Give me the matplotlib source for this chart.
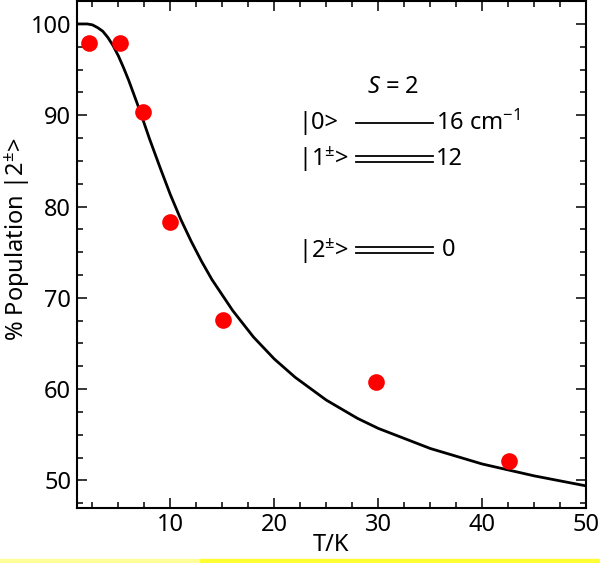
#!/usr/bin/env python3

import matplotlib
matplotlib.use("Agg")
import matplotlib.pyplot as plt
from matplotlib.lines import Line2D
from matplotlib.patches import Rectangle
from matplotlib.ticker import MultipleLocator

plt.rcParams['font.family'] = ['Noto Sans', 'DejaVu Sans']
plt.rcParams['mathtext.fontset'] = 'custom'
plt.rcParams['mathtext.rm'] = 'Noto Sans'
plt.rcParams['mathtext.it'] = 'Noto Sans:italic'

# measured populations (red dots)
T_EXP = [2.2, 5.2, 7.4, 10.0, 15.1, 29.8, 42.6]
POP_EXP = [97.9, 97.9, 90.4, 78.3, 67.6, 60.8, 52.1]

# simulated curve
T_FIT = [1, 2, 2.5, 3, 3.5, 4, 4.5, 5, 5.5, 6, 7, 8, 9, 10, 11, 12, 13, 14,
         16, 18, 20, 22, 25, 28, 30, 35, 40, 45, 50]
POP_FIT = [100.0, 100.0, 99.9, 99.6, 99.2, 98.5, 97.6, 96.5, 95.2, 93.8,
           90.7, 87.4, 84.3, 81.3, 78.6, 76.2, 74.0, 72.0, 68.6, 65.7,
           63.3, 61.3, 58.8, 56.8, 55.7, 53.5, 51.8, 50.5, 49.4]

FS = 17

fig = plt.figure(figsize=(6.0, 5.63), dpi=100)
ax = fig.add_axes([0.128, 0.098, 0.849, 0.9])

ax.plot(T_FIT, POP_FIT, color='black', lw=2.0, zorder=2)
ax.plot(T_EXP, POP_EXP, 'o', color='#ff0000', ms=12, mec='none', zorder=3)

ax.set_xlim(1, 50)
ax.set_ylim(47, 102.5)
ax.xaxis.set_major_locator(MultipleLocator(10))
ax.xaxis.set_minor_locator(MultipleLocator(2.5))
ax.yaxis.set_major_locator(MultipleLocator(10))
ax.yaxis.set_minor_locator(MultipleLocator(2.5))
ax.tick_params(which='both', direction='in', top=True, right=True,
               width=1.1, labelsize=FS)
ax.tick_params(which='major', length=7, pad=4)
ax.tick_params(which='minor', length=4)
for s in ax.spines.values():
    s.set_linewidth(1.5)

ax.set_xlabel('T/K', fontsize=FS, labelpad=-3)
ax.set_ylabel('% Population |2$^{\\pm}$>', fontsize=FS)
ax.yaxis.set_label_coords(-0.088, 0.53)

# energy level scheme
def fx(px):
    return (px - 77) / 509.0


def fy(py):
    return (508 - py) / 508.0


tr = ax.transAxes
ax.text(fx(393), fy(86), '$S$ = 2', transform=tr, fontsize=FS,
        ha='center', va='center')
ax.text(fx(298), fy(122), '|0>', transform=tr, fontsize=FS, va='center')
ax.text(fx(298), fy(159), '|1$^{\\pm}$>', transform=tr, fontsize=FS, va='center')
ax.text(fx(298), fy(251), '|2$^{\\pm}$>', transform=tr, fontsize=FS, va='center')
ax.text(fx(436), fy(122), '16 cm$^{-1}$', transform=tr, fontsize=FS, va='center')
ax.text(fx(436), fy(158), '12', transform=tr, fontsize=FS, va='center')
ax.text(fx(442), fy(250), '0', transform=tr, fontsize=FS, va='center')

level_lines = [(122,), (155, 161), (247, 253)]
for ys in level_lines:
    for y in ys:
        ax.add_line(Line2D([fx(356), fx(433)], [fy(y), fy(y)], transform=tr,
                           color='black', lw=1.3))

# yellow strip along the bottom edge
fig.patches.append(Rectangle((0, 0), 200 / 600, 4 / 563, transform=fig.transFigure,
                             color='#ffff99', zorder=0))
fig.patches.append(Rectangle((200 / 600, 0), 400 / 600, 4 / 563,
                             transform=fig.transFigure, color='#ffff33', zorder=0))

fig.savefig('out.png', dpi=100)
